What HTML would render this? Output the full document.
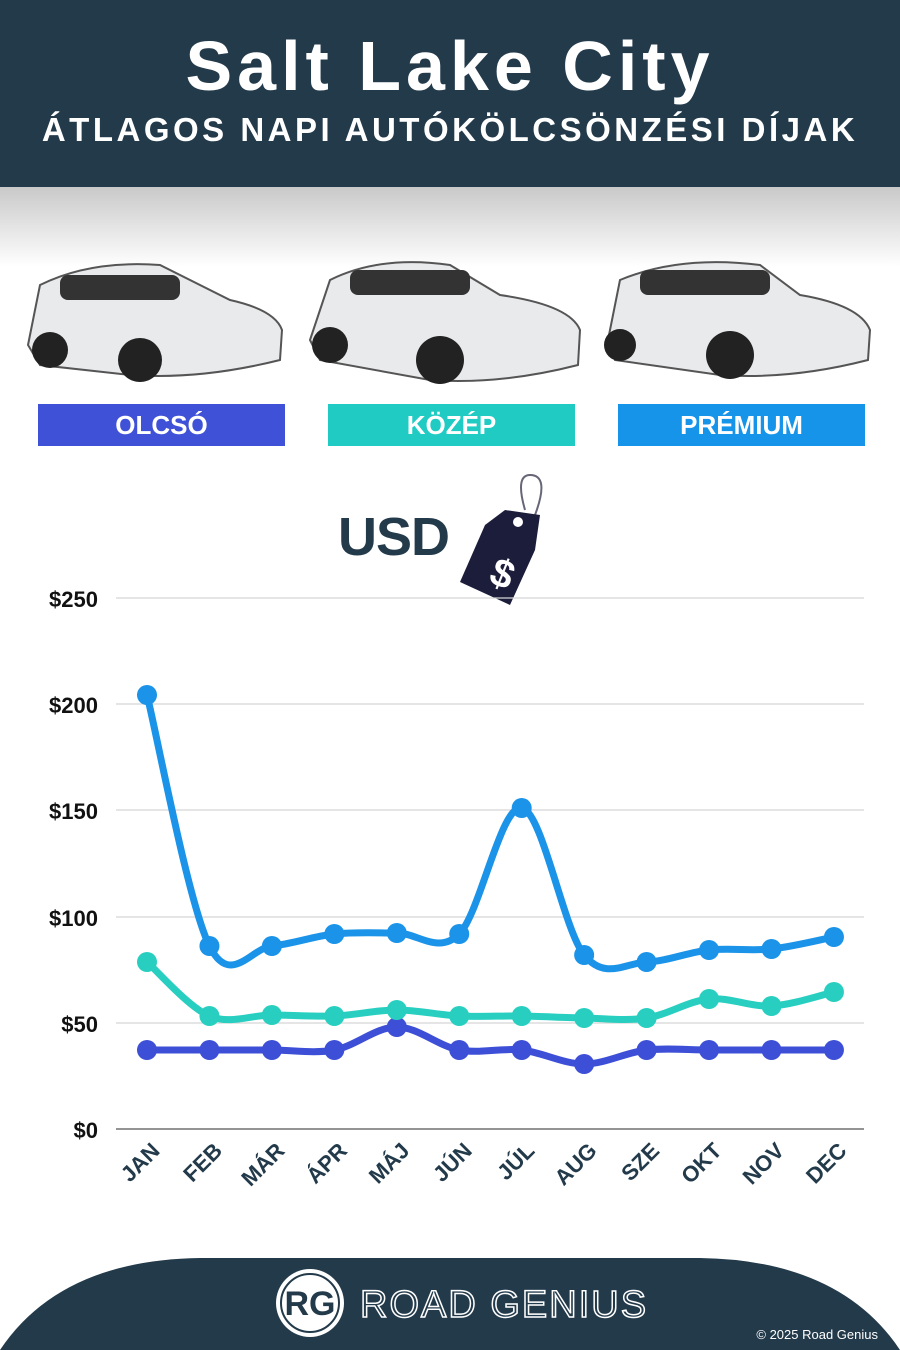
<!DOCTYPE html>
<html><head><meta charset="utf-8"><style>
body{margin:0;width:900px;height:1350px;background:#fff;position:relative;overflow:hidden;font-family:"Liberation Sans",sans-serif}
.hdr{position:absolute;left:0;top:0;width:900px;height:187px;background:#233a4b;color:#fff;text-align:center}
.t1{position:absolute;top:26px;width:100%;font-size:70px;font-weight:bold;letter-spacing:5px}
.t2{position:absolute;top:111px;width:100%;font-size:33px;font-weight:bold;letter-spacing:3.5px}
.shade{position:absolute;top:187px;left:0;width:900px;height:80px;background:linear-gradient(#c9c9c9,#fff)}
.btn{position:absolute;top:404px;width:247px;height:42px;color:#fff;font-weight:bold;font-size:26px;text-align:center;line-height:42px}
</style></head><body>
<div class="hdr"><div class="t1">Salt Lake City</div><div class="t2">ÁTLAGOS NAPI AUTÓKÖLCSÖNZÉSI DÍJAK</div></div>
<div class="shade"></div>
<svg style="position:absolute;left:0;top:250px" width="900" height="150">
<g fill="#e9eaec" stroke="#555" stroke-width="2">
<path d="M28 95 L40 35 Q90 10 160 15 L230 50 Q275 60 282 80 L280 110 Q200 130 130 125 L40 115 Z"/>
<path d="M310 90 L330 30 Q380 5 450 15 L500 45 Q570 55 580 80 L578 115 Q500 135 430 130 L320 110 Z"/>
<path d="M608 90 L620 30 Q680 5 760 15 L800 45 Q860 55 870 80 L868 110 Q790 130 720 125 L615 110 Z"/>
</g>
<g fill="#222"><circle cx="50" cy="100" r="18"/><circle cx="140" cy="110" r="22"/><circle cx="330" cy="95" r="18"/><circle cx="440" cy="110" r="24"/><circle cx="620" cy="95" r="16"/><circle cx="730" cy="105" r="24"/></g>
<g fill="#333"><rect x="60" y="25" width="120" height="25" rx="8"/><rect x="350" y="20" width="120" height="25" rx="8"/><rect x="640" y="20" width="130" height="25" rx="8"/></g>
</svg>
<div class="btn" style="left:38px;background:#3f51d6">OLCSÓ</div>
<div class="btn" style="left:328px;background:#1fcbc2">KÖZÉP</div>
<div class="btn" style="left:618px;background:#1694ea">PRÉMIUM</div>
<div style="position:absolute;left:338px;top:506px;font-size:54px;font-weight:bold;color:#233a4b;letter-spacing:-1px">USD</div>
<svg style="position:absolute;left:455px;top:470px" width="100" height="140">
<path d="M70 40 Q60 5 75 5 Q95 5 80 45" fill="none" stroke="#667" stroke-width="2"/>
<path d="M50 40 L85 45 L80 80 L55 135 L5 112 L30 55 Z" fill="#1c1d3a"/>
<circle cx="63" cy="52" r="5" fill="#fff"/>
<text x="37" y="113" fill="#fff" font-size="40" font-weight="bold" transform="rotate(22 37 100)">$</text>
</svg>
<svg style="position:absolute;left:0;top:0" width="900" height="1250" id="ch">
<g stroke="#d5d5d5" stroke-width="1.2">
<line x1="116" x2="864" y1="598" y2="598"/><line x1="116" x2="864" y1="704" y2="704"/><line x1="116" x2="864" y1="810" y2="810"/><line x1="116" x2="864" y1="917" y2="917"/><line x1="116" x2="864" y1="1023" y2="1023"/></g>
<line x1="116" x2="864" y1="1129" y2="1129" stroke="#555" stroke-width="1.2"/>
<g font-size="22" font-weight="bold" fill="#111" text-anchor="end">
<text x="98" y="607">$250</text><text x="98" y="713">$200</text><text x="98" y="819">$150</text><text x="98" y="926">$100</text><text x="98" y="1032">$50</text><text x="98" y="1138">$0</text></g>
<g id="xl" font-size="22" font-weight="bold" fill="#233a4b" text-anchor="end"></g>
<g id="ln"></g>
</svg>
<svg style="position:absolute;left:0;top:1255px" width="900" height="95">
<path d="M0 95 Q60 5 200 3 L700 3 Q840 5 900 95 Z" fill="#233a4b"/>
<circle cx="310" cy="48" r="34" fill="#fff"/><circle cx="310" cy="48" r="29" fill="none" stroke="#233a4b" stroke-width="2"/>
<text x="310" y="60" text-anchor="middle" font-size="34" font-weight="bold" fill="#233a4b">RG</text>
<text x="360" y="62" font-size="38" fill="none" stroke="#fff" stroke-width="1.5" letter-spacing="2">ROAD GENIUS</text>
<text x="878" y="84" text-anchor="end" font-size="13" fill="#fff">© 2025 Road Genius</text>
</svg>
<script>
var xs=[],m=["JAN","FEB","MÁR","ÁPR","MÁJ","JÚN","JÚL","AUG","SZE","OKT","NOV","DEC"];
for(var i=0;i<12;i++)xs.push(147+i*62.45);
var S=[["#1a93e8",[695,946,946,934,933,934,808,955,962,950,949,937]],["#28cfc0",[962,1016,1015,1016,1010,1016,1016,1018,1018,999,1006,992]],["#3d4fd6",[1050,1050,1050,1050,1027,1050,1050,1064,1050,1050,1050,1050]]];
var h="",ns="";
S.slice().reverse().forEach(function(s){var y=s[1],d="M"+xs[0]+" "+y[0];
for(var i=0;i<11;i++){var p0=i?i-1:i,p3=i<10?i+2:i+1;
var c1x=xs[i]+(xs[i+1]-xs[p0])/6,c1y=y[i]+(y[i+1]-y[p0])/6,c2x=xs[i+1]-(xs[p3]-xs[i])/6,c2y=y[i+1]-(y[p3]-y[i])/6;
d+=" C"+c1x+" "+c1y+" "+c2x+" "+c2y+" "+xs[i+1]+" "+y[i+1];}
h+='<path d="'+d+'" fill="none" stroke="'+s[0]+'" stroke-width="7" stroke-linecap="round"/>';
y.forEach(function(v,i){h+='<circle cx="'+xs[i]+'" cy="'+v+'" r="10" fill="'+s[0]+'"/>';});});
document.getElementById("ln").innerHTML=h;
m.forEach(function(t,i){ns+='<text transform="translate('+(xs[i]+14)+' 1152) rotate(-45)">'+t+'</text>';});
document.getElementById("xl").innerHTML=ns;
</script>
</body></html>
